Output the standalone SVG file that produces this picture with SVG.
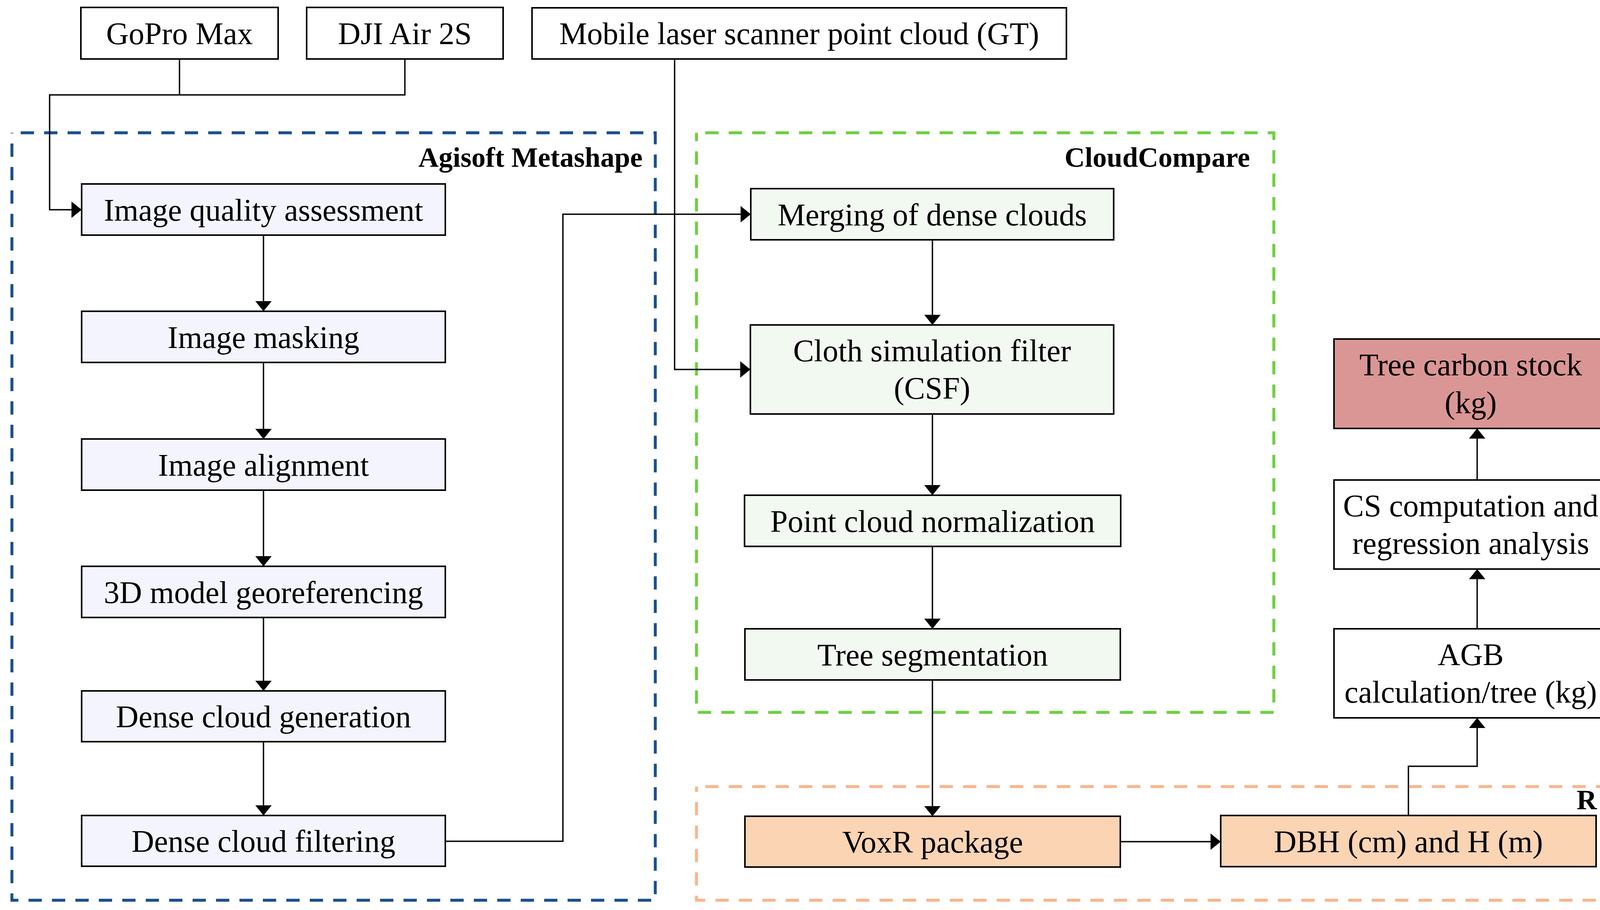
<svg xmlns="http://www.w3.org/2000/svg" width="4236" height="2330" viewBox="0 0 4236 2330">
<style>
text{font-family:"Liberation Serif","Times New Roman",serif;font-size:80px;fill:#000;text-anchor:middle}
.lbl{font-weight:bold;font-size:72px;text-anchor:end}
.box{stroke:#000;stroke-width:4}
.w{fill:#fff}.lav{fill:#F3F4FE}.grn{fill:#F2F9F1}.org{fill:#FBD4B4}.red{fill:#DA9694}
.grp{fill:none;stroke-width:7.5;stroke-dasharray:34 26;stroke-dashoffset:37.5}
.con{fill:none;stroke:#000;stroke-width:3.5}
</style>
<defs>
<marker id="ah" markerUnits="userSpaceOnUse" markerWidth="26" markerHeight="42" refX="26" refY="21" orient="auto">
<path d="M0,0 L26,21 L0,42 Z" fill="#000"/>
</marker>
</defs>
<rect width="4236" height="2330" fill="#fff"/>
<g id="groups">
<g id="g-agisoft"><rect class="grp" x="30.5" y="340" width="1647" height="1965" stroke="#1B4F8E"/><text class="lbl" x="1645" y="427">Agisoft Metashape</text></g>
<g id="g-cloudcompare"><rect class="grp" x="1783" y="340" width="1478" height="1484" stroke="#6DCF3F"/><text class="lbl" x="3200" y="427">CloudCompare</text></g>
<g id="g-r"><rect class="grp" x="1783" y="2014" width="2427" height="291" stroke="#F9B58A"/><text class="lbl" x="4088" y="2072">R</text></g>
</g>
<g id="connectors">
<path class="con" d="M459.5,151 V243 M1036.5,151 V243 H127 V537 H209" marker-end="url(#ah)"/>
<path class="con" d="M1727,151 V946 H1921" marker-end="url(#ah)"/>
<path class="con" d="M674.5,602 V797" marker-end="url(#ah)"/>
<path class="con" d="M674.5,928 V1124" marker-end="url(#ah)"/>
<path class="con" d="M674.5,1255 V1450" marker-end="url(#ah)"/>
<path class="con" d="M674.5,1581 V1769" marker-end="url(#ah)"/>
<path class="con" d="M674.5,1899 V2088" marker-end="url(#ah)"/>
<path class="con" d="M1140,2154 H1441 V548.5 H1922" marker-end="url(#ah)"/>
<path class="con" d="M2387,614 V832" marker-end="url(#ah)"/>
<path class="con" d="M2387,1060 V1268" marker-end="url(#ah)"/>
<path class="con" d="M2387,1399 V1610" marker-end="url(#ah)"/>
<path class="con" d="M2387,1741 V2090" marker-end="url(#ah)"/>
<path class="con" d="M2868,2155 H3125" marker-end="url(#ah)"/>
<path class="con" d="M3605.5,2088 V1962 H3781.5 V1838" marker-end="url(#ah)"/>
<path class="con" d="M3781.5,1610 V1457" marker-end="url(#ah)"/>
<path class="con" d="M3781.5,1229 V1097" marker-end="url(#ah)"/>
</g>
<g id="n-gopro"><rect class="box w" x="207" y="19" width="505" height="132"/><text x="459.5" y="113">GoPro Max</text></g>
<g id="n-dji"><rect class="box w" x="785" y="19" width="503" height="132"/><text x="1036.5" y="113">DJI Air 2S</text></g>
<g id="n-mls"><rect class="box w" x="1362" y="20" width="1368" height="131"/><text x="2046" y="113">Mobile laser scanner point cloud (GT)</text></g>
<g id="n-iqa"><rect class="box lav" x="209" y="471" width="931" height="131"/><text x="674.5" y="565">Image quality assessment</text></g>
<g id="n-mask"><rect class="box lav" x="209" y="797" width="931" height="131"/><text x="674.5" y="891">Image masking</text></g>
<g id="n-align"><rect class="box lav" x="209" y="1124" width="931" height="131"/><text x="674.5" y="1218">Image alignment</text></g>
<g id="n-georef"><rect class="box lav" x="209" y="1450" width="931" height="131"/><text x="674.5" y="1544">3D model georeferencing</text></g>
<g id="n-densegen"><rect class="box lav" x="209" y="1769" width="931" height="130"/><text x="674.5" y="1862">Dense cloud generation</text></g>
<g id="n-densefilt"><rect class="box lav" x="209" y="2088" width="931" height="130"/><text x="674.5" y="2181">Dense cloud filtering</text></g>
<g id="n-merge"><rect class="box grn" x="1922" y="483" width="929" height="131"/><text x="2386.5" y="577">Merging of dense clouds</text></g>
<g id="n-csf"><rect class="box grn" x="1921" y="832" width="930" height="228"/><text x="2386" y="925">Cloth simulation filter</text><text x="2386" y="1021">(CSF)</text></g>
<g id="n-norm"><rect class="box grn" x="1906" y="1268" width="963" height="131"/><text x="2387.5" y="1362">Point cloud normalization</text></g>
<g id="n-seg"><rect class="box grn" x="1907" y="1610" width="961" height="131"/><text x="2387.5" y="1704">Tree segmentation</text></g>
<g id="n-voxr"><rect class="box org" x="1907" y="2090" width="961" height="130"/><text x="2387.5" y="2183">VoxR package</text></g>
<g id="n-dbh"><rect class="box org" x="3125" y="2088" width="961" height="131"/><text x="3605.5" y="2182">DBH (cm) and H (m)</text></g>
<g id="n-agb"><rect class="box w" x="3415" y="1610" width="733" height="228"/><text x="3765" y="1703">AGB</text><text x="3765" y="1799">calculation/tree (kg)</text></g>
<g id="n-cs"><rect class="box w" x="3415" y="1229" width="733" height="228"/><text x="3765" y="1322">CS computation and</text><text x="3765" y="1418">regression analysis</text></g>
<g id="n-carbon"><rect class="box red" x="3415" y="868" width="733" height="229"/><text x="3765" y="961">Tree carbon stock</text><text x="3765" y="1058">(kg)</text></g>
</svg>
